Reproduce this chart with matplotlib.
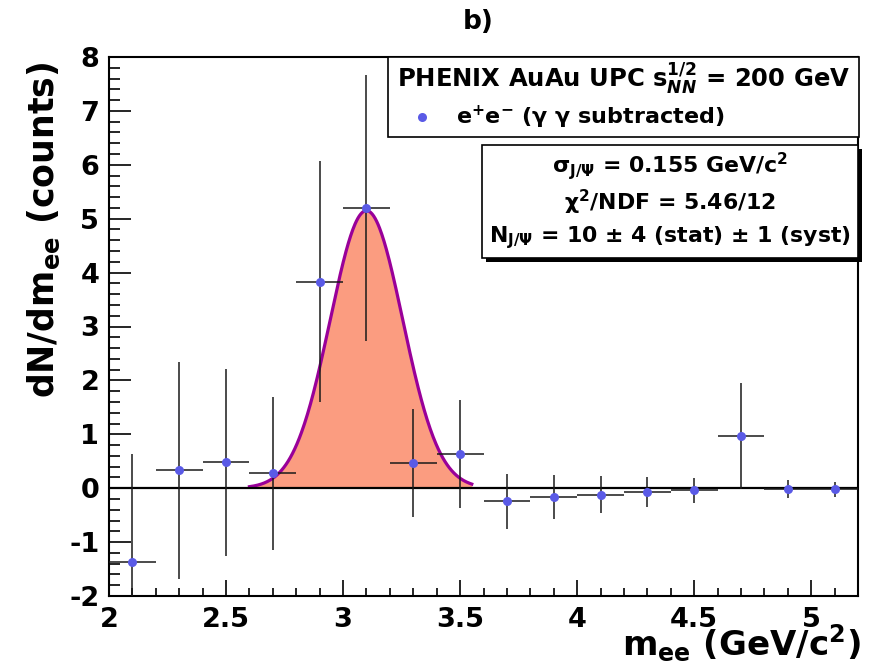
import numpy as np
import matplotlib
matplotlib.use("Agg")
import matplotlib.pyplot as plt
from matplotlib.patches import Rectangle
from matplotlib.ticker import MultipleLocator

plt.rcParams['font.family'] = ['DejaVu Sans']
plt.rcParams['font.weight'] = 'bold'
plt.rcParams['axes.unicode_minus'] = False
plt.rcParams['mathtext.fontset'] = 'custom'
plt.rcParams['mathtext.rm'] = 'DejaVu Sans:bold'
plt.rcParams['mathtext.bf'] = 'DejaVu Sans:bold'
plt.rcParams['mathtext.it'] = 'DejaVu Sans:bold:italic'
plt.rcParams['mathtext.sf'] = 'DejaVu Sans:bold'

# ---- data ----
mass = [2.1, 2.3, 2.5, 2.7, 2.9, 3.1, 3.3, 3.5, 3.7, 3.9, 4.1, 4.3, 4.5, 4.7, 4.9, 5.1]
counts = [-1.37, 0.33, 0.48, 0.28, 3.83, 5.20, 0.47, 0.63, -0.24, -0.17, -0.12, -0.07, -0.04, 0.97, -0.02, -0.02]
count_err = [2.01, 2.02, 1.74, 1.42, 2.24, 2.46, 1.00, 1.00, 0.51, 0.41, 0.34, 0.28, 0.23, 0.98, 0.17, 0.14]
bin_half = 0.1

fit_amp = 5.15
fit_mean = 3.10
fit_sigma = 0.155
fit_lo, fit_hi = 2.6, 3.55

x_ticks = [2, 2.5, 3, 3.5, 4, 4.5, 5]
x_tick_labels = ['2', '2.5', '3', '3.5', '4', '4.5', '5']
y_ticks = [-2, -1, 0, 1, 2, 3, 4, 5, 6, 7, 8]

W, H = 871, 665
fig = plt.figure(figsize=(W / 100, H / 100), dpi=100)

def fx(px):
    return px / W

def fy(py):
    return 1 - py / H

ax = fig.add_axes([fx(109), fy(596), fx(858) - fx(109), fy(57) - fy(596)])
ax.set_xlim(2, 5.2)
ax.set_ylim(-2, 8)

# fit curve
xf = np.linspace(fit_lo, fit_hi, 300)
yf = fit_amp * np.exp(-0.5 * ((xf - fit_mean) / fit_sigma) ** 2)
ax.fill_between(xf, 0, yf, color='#fb9c80', lw=0, zorder=1)
ax.plot(xf, yf, color='#990099', lw=2.3, zorder=2)

# zero line
ax.axhline(0, color='black', lw=1.6, zorder=3)

# data points
ax.errorbar(mass, counts, yerr=count_err, xerr=bin_half, fmt='o', color='#5a5ae6',
            ms=6.5, mec='none', ecolor='#1a1a1a', elinewidth=1.1, capsize=0, zorder=4)

# axes styling
for s in ax.spines.values():
    s.set_linewidth(1.5)
    s.set_color('black')
ax.set_xticks(x_ticks)
ax.set_xticklabels(x_tick_labels)
ax.set_yticks(y_ticks)
ax.xaxis.set_minor_locator(MultipleLocator(0.1))
ax.yaxis.set_minor_locator(MultipleLocator(0.2))
ax.tick_params(axis='x', which='major', direction='in', length=11.5, width=1.2, pad=8, labelsize=19.5)
ax.tick_params(axis='x', which='minor', direction='in', length=5.8, width=1.2)
ax.tick_params(axis='y', which='major', direction='in', length=16, width=1.2, pad=7, labelsize=19.5)
ax.tick_params(axis='y', which='minor', direction='in', length=8, width=1.2)
for lab in ax.get_xticklabels() + ax.get_yticklabels():
    lab.set_fontweight('bold')

# axis labels
fig.text(fx(44), fy(230), r'dN/dm$_{\mathrm{ee}}$ (counts)', rotation=90, ha='center', va='center',
         fontsize=25, fontweight='bold')
fig.text(fx(861), fy(643), r'm$_{\mathrm{ee}}$ (GeV/c$^{2}$)', ha='right', va='center',
         fontsize=24.5, fontweight='bold')
fig.text(fx(478), fy(22), 'b)', ha='center', va='center', fontsize=19, fontweight='bold')

# legend box
fig.add_artist(Rectangle((fx(388), fy(137)), fx(859) - fx(388), fy(57) - fy(137),
                         transform=fig.transFigure, facecolor='white', edgecolor='black', lw=1.2, zorder=5))
fig.text(fx(624), fy(79), r'PHENIX AuAu UPC s$_{NN}^{1/2}$ = 200 GeV', ha='center', va='center',
         fontsize=17.5, fontweight='bold', zorder=6)
fig.add_artist(plt.Line2D([fx(422)], [fy(117)], marker='o', color='#5a5ae6', ms=6.5, mec='none',
                          transform=fig.transFigure, zorder=6))
fig.text(fx(456), fy(117), r'e$^{+}$e$^{\mathrm{-}}$ (γ γ subtracted)', ha='left', va='center',
         fontsize=16, fontweight='bold', zorder=6)

# stats box with shadow
fig.add_artist(Rectangle((fx(486), fy(262)), fx(862) - fx(486), fy(149) - fy(262),
                         transform=fig.transFigure, facecolor='black', edgecolor='black', lw=0, zorder=5))
fig.add_artist(Rectangle((fx(482), fy(258)), fx(858) - fx(482), fy(145) - fy(258),
                         transform=fig.transFigure, facecolor='white', edgecolor='black', lw=1.2, zorder=5))
cx = fx(670)
fig.text(cx, fy(166), r'σ$_{\mathrm{J/Ψ}}$ = 0.155 GeV/c$^{2}$', ha='center', va='center',
         fontsize=15.8, fontweight='bold', zorder=6)
fig.text(cx, fy(202), r'χ$^{2}$/NDF = 5.46/12', ha='center', va='center',
         fontsize=15.8, fontweight='bold', zorder=6)
fig.text(cx, fy(238), r'N$_{\mathrm{J/Ψ}}$ = 10 ± 4 (stat) ± 1 (syst)', ha='center', va='center',
         fontsize=15.8, fontweight='bold', zorder=6)

fig.savefig('out.png', dpi=100)
